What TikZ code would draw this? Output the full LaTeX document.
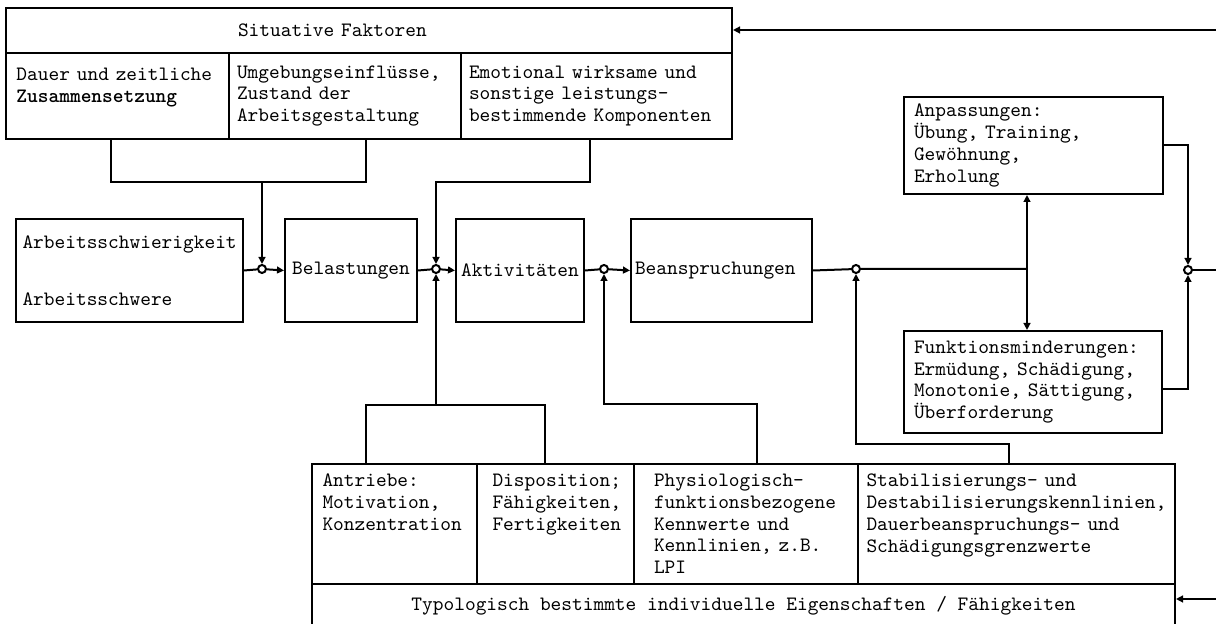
\documentclass[tikz,border=0pt]{standalone}
\usepackage{fontspec}
\usetikzlibrary{arrows.meta}

\tikzset{
  box/.style={draw, line width=1pt, anchor=north west, inner sep=0pt, align=left},
  jn/.style={circle, draw, line width=1pt, fill=white, inner sep=0pt, minimum size=4pt},
  lnk/.style={line width=1pt},
  arr/.style={lnk, -{Triangle[length=3.5pt,width=3.4pt]}},
}

\begin{document}
\begin{tikzpicture}[x=0.5pt, y=-0.5pt, font=\ttfamily\fontsize{10.2}{10.85}\selectfont] % 1 Einheit = 1 Pixel

\useasboundingbox (0,0) rectangle (1216,624);
\clip (0,0) rectangle (1216,624);

% Situative Faktoren
\node[box, minimum width=363pt, minimum height=22.5pt, text width=131pt] (sit) at (5,7) {Situative Faktoren};
\node[box, minimum width=111.5pt, minimum height=43pt, text width=101pt] (dauer) at (5,52) {Dauer und zeitliche\\\textbf{Zusammensetzung}\\\mbox{}};
\node[box, minimum width=116pt, minimum height=43pt, text width=108pt] (umg) at (228,52) {Umgebungseinflüsse,\\Zustand der\\Arbeitsgestaltung};
\node[box, minimum width=135.5pt, minimum height=43pt, text width=127.5pt] (emo) at (460,52) {Emotional wirksame und\\sonstige leistungs-\\bestimmende Komponenten};

% Hauptkette
\node[box, minimum width=113.5pt, minimum height=51.5pt, text width=107pt] (arb) at (15,218) {Arbeitsschwierigkeit\\[17.65pt]Arbeitsschwere};
\node[box, minimum width=66pt, minimum height=51.5pt] (bel) at (284,218) {Belastungen};
\node[box, minimum width=64pt, minimum height=51.5pt] (akt) at (455,218) {Aktivitäten};
\node[box, minimum width=90.5pt, minimum height=51.5pt, text width=86.5pt] (bea) at (630,218) {Beanspruchungen};

% Folgen
\node[box, minimum width=129.5pt, minimum height=48.5pt, text width=119.5pt] (anp) at (903,96) {Anpassungen:\\Übung, Training,\\Gewöhnung,\\Erholung};
\node[box, minimum width=129pt, minimum height=51pt, text width=119pt] (fkt) at (903,330) {Funktionsminderungen:\\Ermüdung, Schädigung,\\Monotonie, Sättigung,\\Überforderung};

% Individuelle Eigenschaften
\node[box, minimum width=82.5pt, minimum height=60pt, text width=72pt] (antr) at (311,463) {Antriebe:\\Motivation,\\Konzentration\\\mbox{}\\\mbox{}};
\node[box, minimum width=78.5pt, minimum height=60pt, text width=63pt] (disp) at (476,463) {Disposition;\\Fähigkeiten,\\Fertigkeiten\\\mbox{}\\\mbox{}};
\node[box, minimum width=112pt, minimum height=60pt, text width=92pt] (phys) at (633,463) {Physiologisch-\\funktionsbezogene\\Kennwerte und\\Kennlinien, z.B.\\LPI};
\node[box, minimum width=158.5pt, minimum height=60pt, text width=150pt] (stab) at (857,463) {Stabilisierungs- und\\Destabilisierungskennlinien,\\Dauerbeanspruchungs- und\\Schädigungsgrenzwerte\\\mbox{}};
\node[box, minimum width=431.5pt, minimum height=22pt, align=center] (typ) at (311,583) {Typologisch bestimmte individuelle Eigenschaften / Fähigkeiten};

% Verknuepfungspunkte
\node[jn] (j1) at (262,269) {};
\node[jn] (j2) at (436,269) {};
\node[jn] (j3) at (604,269) {};
\node[jn] (j4) at (856,269) {};
\node[jn] (j5) at (1188,270) {};

\coordinate (k1) at (111,182);
\coordinate (k2) at (366,182);
\coordinate (k3) at (262,182);
\coordinate (k4) at (590,182);
\coordinate (k5) at (1027,269);
\coordinate (k6) at (1230,270);
\coordinate (k7) at (1230,30);
\coordinate (k8) at (1230,599);
\coordinate (m1) at (366,405);
\coordinate (m2) at (545,405);
\coordinate (m3) at (436,405);
\coordinate (m4) at (757,404);
\coordinate (m5) at (1009,444);

% Verbindungen oben
\draw[lnk] (dauer.south -| k1) -- (k1) -- (k2) -- (umg.south -| k2);
\draw[arr] (k3) -- (j1);
\draw[arr] (emo.south -| k4) -- (k4) -| (j2);

% Hauptlinie
\draw[lnk] (arb.east) -- (j1);
\draw[arr] (j1) -- (bel.west);
\draw[lnk] (bel.east) -- (j2);
\draw[arr] (j2) -- (akt.west);
\draw[lnk] (akt.east) -- (j3);
\draw[arr] (j3) -- (bea.west);
\draw[lnk] (bea.east) -- (j4) -- (k5);
\draw[arr] (k5) -- (k5 |- anp.south);
\draw[arr] (k5) -- (k5 |- fkt.north);

% Rueckfuehrung rechts
\draw[arr] (anp.east) -| (j5);
\draw[arr] ([yshift=-3.5pt]fkt.east) -| (j5);
\draw[lnk] (j5) -- (k6);
\draw[arr] (k7) -- (k7 -| sit.east);
\draw[arr] (k8) -- (k8 -| typ.east);

% Verbindungen unten
\draw[lnk] (antr.north -| m1) -- (m1) -- (m2) -- (disp.north -| m2);
\draw[arr] (m3) -- (j2);
\draw[arr] (phys.north -| m4) -- (m4) -| (j3);
\draw[arr] (stab.north -| m5) -- (m5) -| (j4);

\end{tikzpicture}
\end{document}
